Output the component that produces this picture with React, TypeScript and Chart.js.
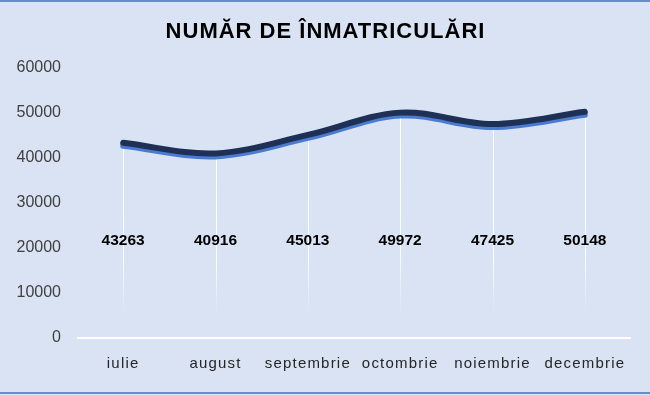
import React, { useEffect, useRef } from "react";
import { Chart, registerables } from "chart.js";

Chart.register(...registerables);

const TITLE = "NUMĂR DE ÎNMATRICULĂRI";
const categories = ["iulie", "august", "septembrie", "octombrie", "noiembrie", "decembrie"];
const registrations = [43263, 40916, 45013, 49972, 47425, 50148];
const yMin = 0;
const yMax = 60000;
const yStep = 10000;

const FONT = '"Liberation Sans", Arial, sans-serif';

const decoPlugin = {
  id: "deco",
  beforeDraw(chart: any) {
    const { ctx, width, height } = chart;
    ctx.save();
    ctx.fillStyle = "#dae3f3";
    ctx.fillRect(0, 0, width, height);
    ctx.fillStyle = "#6b8ccc";
    ctx.fillRect(0, 0, width, 2);
    ctx.fillRect(0, height - 3, width, 2);
    ctx.font = `bold 22px ${FONT}`;
    ctx.letterSpacing = "1px";
    ctx.fillStyle = "#000000";
    ctx.textAlign = "center";
    ctx.textBaseline = "alphabetic";
    ctx.fillText(TITLE, width / 2 + 0.5, 38);
    ctx.restore();
    ctx.letterSpacing = "0px";
  },
  beforeDatasetsDraw(chart: any) {
    const { ctx } = chart;
    const meta = chart.getDatasetMeta(0);
    const yScale = chart.scales.y;
    const end = yScale.getPixelForValue(5000);
    ctx.save();
    ctx.lineWidth = 1;
    meta.data.forEach((pt: any) => {
      const x = Math.round(pt.x) + 0.5;
      const g = ctx.createLinearGradient(0, pt.y, 0, end);
      g.addColorStop(0, "rgba(255,255,255,1)");
      g.addColorStop(0.7, "rgba(255,255,255,0.85)");
      g.addColorStop(1, "rgba(255,255,255,0)");
      ctx.strokeStyle = g;
      ctx.beginPath();
      ctx.moveTo(x, pt.y);
      ctx.lineTo(x, end);
      ctx.stroke();
    });
    ctx.restore();
  },
  beforeDatasetDraw(chart: any) {
    const { ctx } = chart;
    ctx.save();
    ctx.shadowColor = "#4a7bd0";
    ctx.shadowOffsetX = 0;
    ctx.shadowOffsetY = 3;
    ctx.shadowBlur = 0;
  },
  afterDatasetDraw(chart: any) {
    chart.ctx.restore();
  },
  afterDatasetsDraw(chart: any) {
    const { ctx } = chart;
    const meta = chart.getDatasetMeta(0);
    const yScale = chart.scales.y;
    const ly = yScale.getPixelForValue(21500);
    ctx.save();
    ctx.font = `bold 15.5px ${FONT}`;
    ctx.fillStyle = "#000000";
    ctx.textAlign = "center";
    ctx.textBaseline = "middle";
    meta.data.forEach((pt: any, i: number) => {
      ctx.fillText(String(registrations[i]), pt.x, ly);
    });
    ctx.restore();
    // x-axis labels are drawn after the datasets (ticks z = 1): give them spacing
    ctx.letterSpacing = "1.2px";
  },
  afterDraw(chart: any) {
    chart.ctx.letterSpacing = "0px";
  },
};

export default function App() {
  const ref = useRef<HTMLCanvasElement | null>(null);

  useEffect(() => {
    document.body.style.margin = "0";
    const canvas = ref.current;
    if (!canvas) return;
    const chart = new Chart(canvas, {
      type: "line",
      data: {
        labels: categories,
        datasets: [
          {
            label: TITLE,
            data: registrations,
            borderColor: "#1f3056",
            borderWidth: 6,
            borderCapStyle: "round",
            borderJoinStyle: "round",
            tension: 0.35,
            pointRadius: 0,
            pointHoverRadius: 0,
            fill: false,
          },
        ],
      },
      options: {
        animation: false,
        responsive: false,
        maintainAspectRatio: false,
        devicePixelRatio: 1,
        layout: { padding: { top: 67.5, right: 19, bottom: 0, left: 0 } },
        plugins: {
          legend: { display: false },
          title: { display: false },
          tooltip: { enabled: false },
        },
        scales: {
          x: {
            type: "category",
            offset: true,
            grid: { display: false, drawTicks: false, z: 1 },
            border: { display: false, z: 1 },
            ticks: {
              z: 1,
              color: "#262626",
              font: { family: FONT, size: 15 },
              padding: 17,
              maxRotation: 0,
              autoSkip: false,
            },
            afterFit(scale: any) {
              scale.height = 57.5;
            },
          },
          y: {
            type: "linear",
            min: yMin,
            max: yMax,
            grid: {
              drawTicks: false,
              lineWidth: 2,
              color: (c: any) => (c.tick && c.tick.value === 0 ? "rgba(255,255,255,0.95)" : "rgba(0,0,0,0)"),
            },
            border: { display: false },
            ticks: {
              stepSize: yStep,
              color: "#404040",
              font: { family: FONT, size: 16 },
              padding: 16,
              callback: (v: any) => String(v),
            },
            afterFit(scale: any) {
              scale.width = 77;
            },
          },
        },
      },
      plugins: [decoPlugin],
    } as any);
    return () => chart.destroy();
  }, []);

  return (
    <div style={{ width: 650, height: 395 }}>
      <canvas ref={ref} width={650} height={395} style={{ display: "block", width: 650, height: 395 }} />
    </div>
  );
}
